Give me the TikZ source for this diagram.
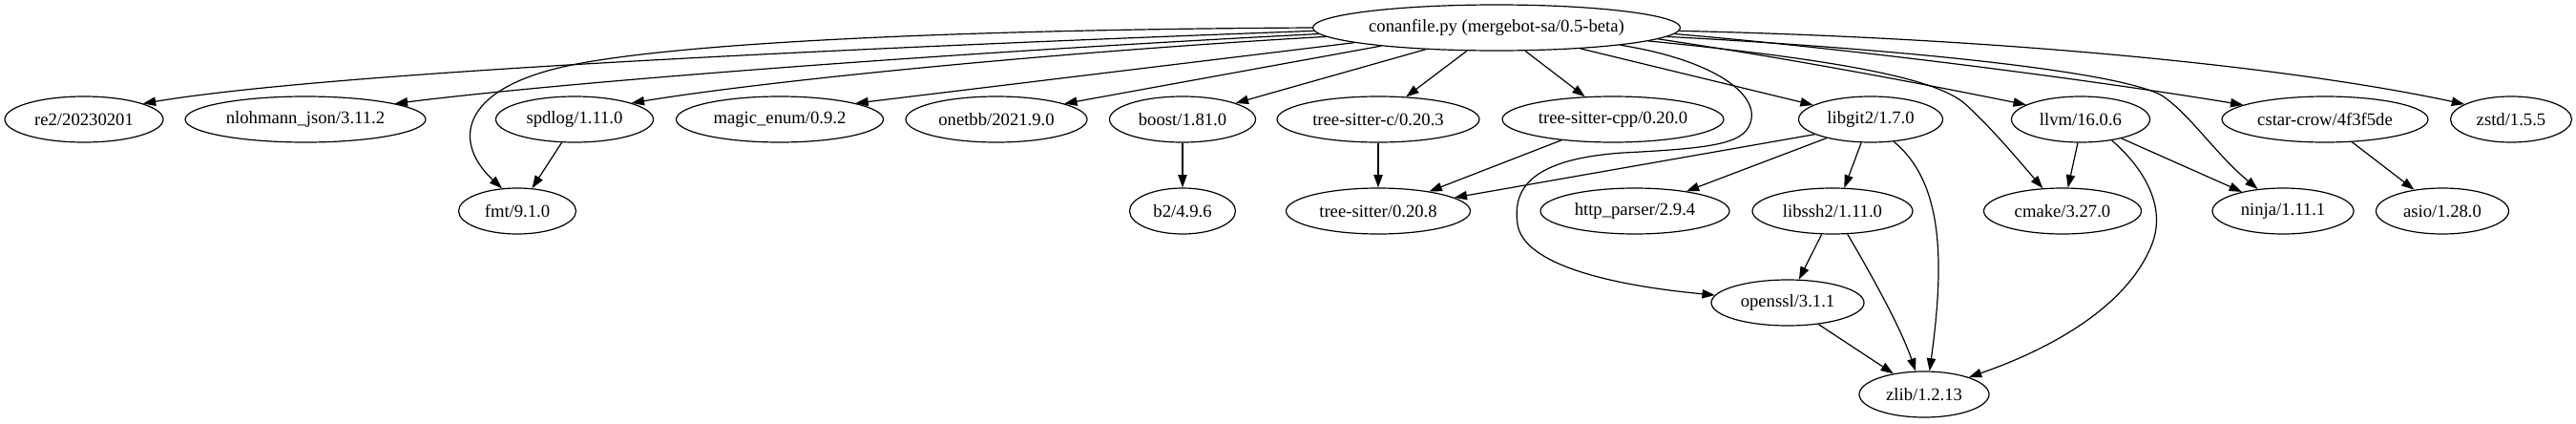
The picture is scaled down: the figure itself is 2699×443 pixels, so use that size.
\documentclass[tikz,border=0pt]{standalone}
\usepackage{fontspec}
\setmainfont{Liberation Serif}
\usetikzlibrary{shapes.geometric,arrows.meta}

\tikzset{
	pkg/.style={draw, ellipse, line width=0.9pt, inner sep=0pt, minimum height=36pt, minimum width=#1*0.75pt, font=\fontsize{14}{16}\selectfont},
	dep/.style={line width=0.9pt, -{Triangle[length=10pt,width=7pt]}}
}

\begin{document}
\begin{tikzpicture}[x=0.75pt,y=-0.75pt]

	\useasboundingbox (0,0) rectangle (2699,443);

	% packages
	\node[pkg=385] (conan) at (1568,29) {conanfile.py (mergebot-sa/0.5-beta)};
	\node[pkg=166] (re2) at (88,125) {re2/20230201};
	\node[pkg=252] (nlohmann) at (320,125) {nlohmann\_json/3.11.2};
	\node[pkg=165] (spdlog) at (602,125) {spdlog/1.11.0};
	\node[pkg=217] (magic) at (817,125) {magic\_enum/0.9.2};
	\node[pkg=190] (onetbb) at (1044,125) {onetbb/2021.9.0};
	\node[pkg=153] (boost) at (1239,125) {boost/1.81.0};
	\node[pkg=212] (tsc) at (1444,125) {tree-sitter-c/0.20.3};
	\node[pkg=232] (tscpp) at (1690,125) {tree-sitter-cpp/0.20.0};
	\node[pkg=151] (libgit2) at (1960,125) {libgit2/1.7.0};
	\node[pkg=145] (llvm) at (2180,125) {llvm/16.0.6};
	\node[pkg=216] (cstar) at (2436,125) {cstar-crow/4f3f5de};
	\node[pkg=127] (zstd) at (2631,125) {zstd/1.5.5};
	\node[pkg=123] (fmt) at (542,221) {fmt/9.1.0};
	\node[pkg=111] (b2) at (1239,221) {b2/4.9.6};
	\node[pkg=193] (ts) at (1444,221) {tree-sitter/0.20.8};
	\node[pkg=198] (http) at (1713,221) {http\_parser/2.9.4};
	\node[pkg=168] (libssh2) at (1920,221) {libssh2/1.11.0};
	\node[pkg=165] (cmake) at (2161,221) {cmake/3.27.0};
	\node[pkg=148] (ninja) at (2392,221) {ninja/1.11.1};
	\node[pkg=139] (asio) at (2559,221) {asio/1.28.0};
	\node[pkg=160] (openssl) at (1873,317) {openssl/3.1.1};
	\node[pkg=136] (zlib) at (2016,413) {zlib/1.2.13};

	% direct requirements
	\draw[dep] (conan.180) .. controls (1000,31) and (700,45) .. (590,70) .. controls (480,95) and (475,150) .. (fmt.124);
	\draw[dep] (conan.181) .. controls (900,50) and (350,75) .. (re2.15);
	\draw[dep] (conan.182) .. controls (1000,55) and (600,85) .. (nlohmann.10);
	\draw[dep] (conan.183) .. controls (1100,55) and (800,85) .. (spdlog.16);
	\draw[dep] (conan.186) -- (magic.12);
	\draw[dep] (conan.189) -- (onetbb.13);
	\draw[dep] (conan.197) -- (boost.17);
	\draw[dep] (conan.218) -- (tsc.39);
	\draw[dep] (conan.321) -- (tscpp.141);
	\draw[dep] (conan.346) -- (libgit2.166);
	\draw[dep] (conan.352) .. controls (1790,62) and (1840,95) .. (1835,125) .. controls (1830,150) and (1800,155) .. (1700,160) .. controls (1600,167) and (1585,200) .. (1590,235) .. controls (1597,280) and (1700,300) .. (openssl.174);
	\draw[dep] (conan.355) .. controls (1950,65) and (2030,85) .. (2058,108) .. controls (2085,132) and (2115,168) .. (cmake.131);
	\draw[dep] (conan.356) .. controls (1900,65) and (2050,95) .. (llvm.165);
	\draw[dep] (conan.357) .. controls (2000,52) and (2220,75) .. (2265,100) .. controls (2295,120) and (2320,160) .. (ninja.139);
	\draw[dep] (conan.358) .. controls (1950,52) and (2200,85) .. (cstar.170);
	\draw[dep] (conan.359) .. controls (2100,40) and (2400,70) .. (zstd.162);

	% transitive requirements
	\draw[dep] (spdlog.241) -- (fmt.57);
	\draw[dep] (boost) -- (b2);
	\draw[dep] (tsc) -- (ts);
	\draw[dep] (tscpp.202) -- (ts.21);
	\draw[dep] (libgit2.195) -- (ts.10);
	\draw[dep] (libgit2.203) -- (http.21);
	\draw[dep] (libgit2.248) -- (libssh2.63);
	\draw[dep] (libgit2.316) .. controls (2035,190) and (2038,270) .. (zlib.77);
	\draw[dep] (llvm.263) -- (cmake.77);
	\draw[dep] (llvm.335) -- (ninja.155);
	\draw[dep] (llvm.326) .. controls (2245,175) and (2270,215) .. (2255,255) .. controls (2230,320) and (2150,365) .. (zlib.21);
	\draw[dep] (cstar.320) -- (asio.143);
	\draw[dep] (libssh2.245) -- (openssl.64);
	\draw[dep] (libssh2.303) .. controls (1965,295) and (1992,345) .. (zlib.110);
	\draw[dep] (openssl.325) -- (zlib.146);

\end{tikzpicture}
\end{document}
